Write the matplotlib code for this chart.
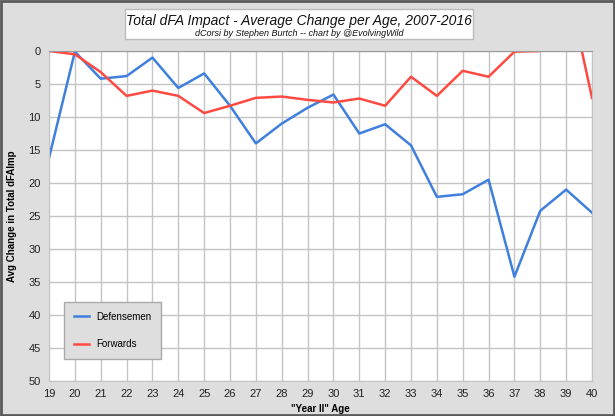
import matplotlib.pyplot as plt
from matplotlib.patches import Rectangle

# ============================================================
# Data
# ============================================================

ages = list(range(19, 41))

defensemen = [16.2, 0.1, 4.2, 3.8, 1.0, 5.6, 3.4, 8.3, 14.0, 11.0, 8.6,
              6.6, 12.5, 11.1, 14.3, 22.1, 21.7, 19.5, 34.2, 24.2, 21.0, 24.5]

forwards = [0.0, 0.5, 3.2, 6.8, 6.0, 6.8, 9.4, 8.3, 7.1, 6.9, 7.4,
            7.8, 7.2, 8.3, 3.9, 6.8, 3.0, 3.9, 0.1, 0.0, -11.0, 7.1]

y_ticks = [0, 5, 10, 15, 20, 25, 30, 35, 40, 45, 50]

BLUE = "#3f7fde"
RED = "#ff4a42"
BG = "#dedede"

plt.rcParams["font.family"] = ["Liberation Sans", "DejaVu Sans"]

# ============================================================
# Figure
# ============================================================

fig = plt.figure(figsize=(6.15, 4.16), dpi=100, facecolor=BG)

# dark frame around the whole picture
fig.patches.append(Rectangle((0.001, 0.002), 0.997, 0.995, transform=fig.transFigure,
                             fill=False, edgecolor="#5a5a5a", linewidth=2))

ax = fig.add_axes([0.0797, 0.0841, 0.8829, 0.7933])
ax.set_facecolor("white")

ax.plot(ages, defensemen, color=BLUE, linewidth=1.8, label="Defensemen")
ax.plot(ages, forwards, color=RED, linewidth=1.8, label="Forwards")

ax.set_xlim(19, 40)
ax.set_ylim(50, 0)
ax.set_xticks(ages)
ax.set_yticks(y_ticks)
ax.tick_params(axis="both", labelsize=8, length=0, pad=6, colors="#222222")

ax.grid(True, color="#c4c4c4", linewidth=1)
ax.set_axisbelow(True)
for side in ax.spines.values():
    side.set_color("#c4c4c4")
ax.spines["top"].set_color("#999999")

ax.set_xlabel('"Year II" Age', fontsize=7, fontweight="bold", labelpad=3)
ax.set_ylabel("Avg Change in Total dFAImp", fontsize=7, fontweight="bold", labelpad=8)

leg = ax.legend(loc="lower left", bbox_to_anchor=(0.028, 0.067), fontsize=7,
                frameon=True, fancybox=False, handlelength=1.5, handletextpad=0.8,
                labelspacing=1.8, borderpad=1.0, borderaxespad=0)
leg.get_frame().set_facecolor(BG)
leg.get_frame().set_edgecolor("#aaaaaa")
leg.get_frame().set_alpha(1)

# title box
fig.patches.append(Rectangle((125 / 615, 1 - 39 / 416), 348 / 615, 30 / 416,
                             transform=fig.transFigure, facecolor="white",
                             edgecolor="#bbbbbb", linewidth=1))
fig.text(299 / 615, 1 - 21 / 416, "Total dFA Impact - Average Change per Age, 2007-2016",
         ha="center", va="center", fontsize=10, style="italic", color="#111111")
fig.text(299 / 615, 1 - 33 / 416, "dCorsi by Stephen Burtch -- chart by @EvolvingWild",
         ha="center", va="center", fontsize=6.5, style="italic", color="#111111")

fig.savefig("out.png", dpi=100, facecolor=BG)
